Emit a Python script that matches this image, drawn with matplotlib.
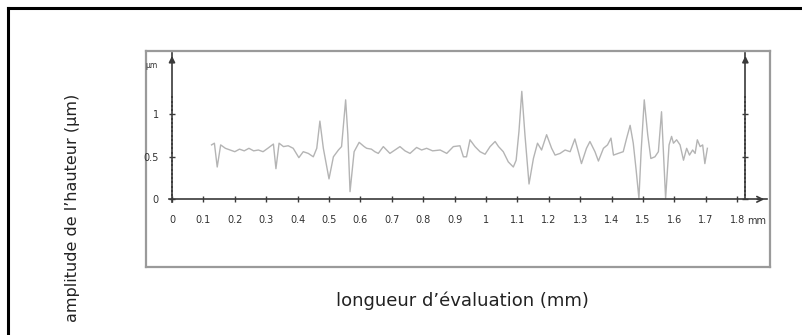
import matplotlib
matplotlib.use("Agg")
import matplotlib.pyplot as plt
from matplotlib.lines import Line2D
import numpy as np

# ---- data ----
x_mm = [0.126, 0.135, 0.144, 0.155, 0.17, 0.185, 0.2, 0.215, 0.23, 0.245, 0.26, 0.275,
        0.29, 0.305, 0.323, 0.331, 0.341, 0.355, 0.37, 0.386, 0.404, 0.418, 0.434, 0.45,
        0.461, 0.471, 0.482, 0.5, 0.514, 0.53, 0.54, 0.553, 0.56, 0.567, 0.58, 0.596,
        0.612, 0.62, 0.635, 0.646, 0.657, 0.673, 0.694, 0.71, 0.726, 0.742, 0.758, 0.779,
        0.795, 0.811, 0.83, 0.854, 0.875, 0.896, 0.917, 0.928, 0.938, 0.949, 0.965, 0.981,
        0.997, 1.013, 1.029, 1.04, 1.055, 1.071, 1.087, 1.096, 1.105, 1.114, 1.124, 1.137,
        1.151, 1.164, 1.177, 1.193, 1.209, 1.22, 1.236, 1.252, 1.268, 1.283, 1.294, 1.304,
        1.32, 1.331, 1.347, 1.358, 1.374, 1.387, 1.398, 1.406, 1.421, 1.437, 1.448, 1.459,
        1.469, 1.478, 1.487, 1.494, 1.504, 1.515, 1.525, 1.538, 1.549, 1.559, 1.565, 1.572,
        1.583, 1.591, 1.597, 1.607, 1.618, 1.629, 1.639, 1.648, 1.658, 1.666, 1.673, 1.682,
        1.69, 1.697, 1.705]
height_um = [0.64, 0.66, 0.38, 0.64, 0.6, 0.58, 0.56, 0.59, 0.57, 0.6, 0.57, 0.58,
             0.56, 0.6, 0.65, 0.36, 0.66, 0.62, 0.63, 0.6, 0.49, 0.56, 0.54, 0.5,
             0.6, 0.92, 0.6, 0.24, 0.5, 0.58, 0.62, 1.17, 0.76, 0.09, 0.56, 0.67,
             0.62, 0.6, 0.59, 0.56, 0.54, 0.62, 0.54, 0.58, 0.62, 0.57, 0.54, 0.61,
             0.58, 0.6, 0.57, 0.58, 0.54, 0.62, 0.63, 0.5, 0.5, 0.7, 0.62, 0.56,
             0.53, 0.62, 0.68, 0.62, 0.56, 0.44, 0.38, 0.46, 0.8, 1.27, 0.76, 0.18,
             0.48, 0.66, 0.58, 0.76, 0.6, 0.52, 0.54, 0.58, 0.56, 0.71, 0.56, 0.42,
             0.6, 0.68, 0.56, 0.45, 0.6, 0.64, 0.72, 0.52, 0.54, 0.56, 0.72, 0.87,
             0.66, 0.35, 0.01, 0.56, 1.17, 0.76, 0.48, 0.5, 0.56, 1.03, 0.56, 0.01,
             0.64, 0.74, 0.66, 0.7, 0.64, 0.46, 0.6, 0.52, 0.58, 0.54, 0.7, 0.62,
             0.64, 0.42, 0.6]

x_ticks = [round(0.1 * i, 1) for i in range(19)]
x_ticklabels = ["0", "0.1", "0.2", "0.3", "0.4", "0.5", "0.6", "0.7", "0.8", "0.9",
                "1", "1.1", "1.2", "1.3", "1.4", "1.5", "1.6", "1.7", "1.8"]
y_ticks = [0, 0.5, 1]
y_ticklabels = ["0", "0.5", "1"]
y_minor = [round(0.05 * i, 2) for i in range(25)]

# ---- figure ----
W, H = 802, 335
fig = plt.figure(figsize=(W / 100, H / 100), dpi=100)
fig.patch.set_facecolor("white")

# outer black frame (top and left visible)
fig.add_artist(Line2D([8 / W, 1.0], [1 - 8 / H, 1 - 8 / H], color="black", lw=2.2,
                      transform=fig.transFigure))
fig.add_artist(Line2D([8 / W, 8 / W], [0, 1 - 8 / H], color="black", lw=2.2,
                      transform=fig.transFigure))

rect = [146 / W, 1 - 267 / H, (770 - 146) / W, (267 - 51) / H]
box = fig.add_axes(rect)
box.set_xticks([])
box.set_yticks([])
for s in box.spines.values():
    s.set_color("#9a9a9a")
    s.set_linewidth(1.6)

ax = fig.add_axes(rect, facecolor="none")
x0 = (146 - 172) / 314
x1 = (770 - 172) / 314
y0 = -(267 - 199.3) / 85
y1 = (199.3 - 51) / 85
ax.set_xlim(x0, x1)
ax.set_ylim(y0, y1)

axis_col = "#3a3a3a"
x_right = 1.826
x_tip = 1.895
y_tip = 1.72

ax.spines["top"].set_visible(False)
ax.spines["left"].set_position(("data", 0))
ax.spines["bottom"].set_position(("data", 0))
ax.spines["right"].set_position(("data", x_right))
for k in ["left", "bottom", "right"]:
    ax.spines[k].set_color(axis_col)
    ax.spines[k].set_linewidth(1.2)
ax.spines["left"].set_bounds(-0.03, y_tip)
ax.spines["right"].set_bounds(0, y_tip)
ax.spines["bottom"].set_bounds(-0.01, x_tip)

# arrow heads
ax.annotate("", xy=(0, y_tip), xytext=(0, y_tip - 0.12),
            arrowprops=dict(arrowstyle="-|>", color=axis_col, lw=1.2, mutation_scale=9))
ax.annotate("", xy=(x_right, y_tip), xytext=(x_right, y_tip - 0.12),
            arrowprops=dict(arrowstyle="-|>", color=axis_col, lw=1.2, mutation_scale=9))
ax.annotate("", xy=(x_tip, 0), xytext=(x_tip - 0.04, 0),
            arrowprops=dict(arrowstyle="->", color=axis_col, lw=1.2, mutation_scale=10))

tick_font = dict(family=["Liberation Sans Narrow", "DejaVu Sans"], size=7, color="#333333")

ax.set_xticks(x_ticks)
ax.set_xticklabels(x_ticklabels, **tick_font)
ax.tick_params(axis="x", direction="inout", length=4, width=1, color=axis_col, pad=9)

ax.set_yticks(y_ticks)
ax.set_yticklabels(y_ticklabels, **tick_font)
ax.set_yticks(y_minor, minor=True)
ax.yaxis.set_ticks_position("both")
ax.tick_params(axis="y", which="major", direction="inout", length=5, width=1,
               color=axis_col, pad=7, labelright=False)
ax.tick_params(axis="y", which="minor", direction="inout", length=1.6, width=1.2,
               color=axis_col, labelright=False)

ax.text(-0.045, 1.58, "µm", ha="right", va="center",
        family=["Liberation Sans Narrow", "DejaVu Sans"], size=5.5, color="#333333")
ax.text(1.833, -0.25, "mm", ha="left", va="center", **tick_font)

# signal
ax.plot(x_mm, height_um, color="#b4b4b4", lw=1.0)

# labels
fig.text(73 / W, 1 - 208 / H, "amplitude de l’hauteur (µm)", rotation=90,
         ha="center", va="center", size=11.5, color="#222222", family="DejaVu Sans")
fig.text(462 / W, 1 - 301 / H, "longueur d’évaluation (mm)",
         ha="center", va="center", size=13, color="#222222", family="DejaVu Sans")

fig.savefig("out.png", dpi=100, facecolor="white")
